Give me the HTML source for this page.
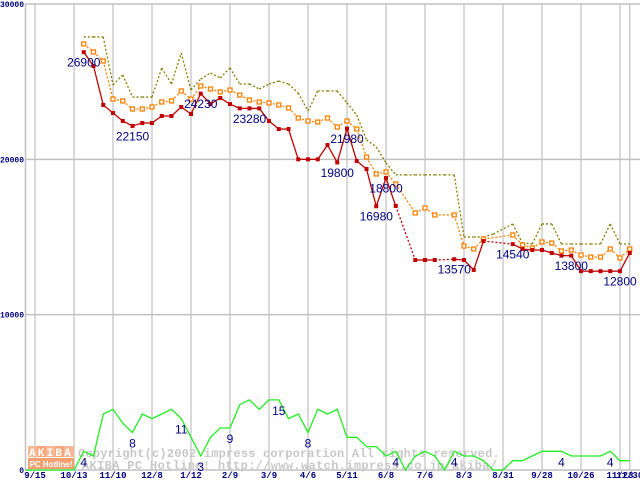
<!DOCTYPE html>
<html><head><meta charset="utf-8"><style>
html,body{margin:0;padding:0;background:#fff;}
svg{display:block;}
</style></head><body>
<svg id="chart" width="640" height="480" xmlns="http://www.w3.org/2000/svg" font-family="Liberation Sans, sans-serif">
<g id="grid"></g>
<g id="watermark">
  <g>
    <rect x="28" y="446" width="9" height="11" fill="#f7b893"/><rect x="37" y="446" width="9" height="11" fill="#f5a67a"/>
    <rect x="46" y="446" width="9" height="11" fill="#f7b893"/><rect x="55" y="446" width="9" height="11" fill="#f5a67a"/>
    <rect x="64" y="446" width="10" height="11" fill="#f7b893"/>
    <text x="51" y="456" text-anchor="middle" font-size="11" font-weight="bold" fill="#fff" letter-spacing="2.2" font-family="Liberation Mono, monospace">AKIBA</text>
    <rect x="28" y="458" width="46" height="11" fill="#f3a070"/>
    <text x="51" y="467" text-anchor="middle" font-size="8" font-weight="bold" fill="#fff" font-family="Liberation Sans, sans-serif">PC Hotline!</text>
  </g>
  <text x="78" y="457" font-size="12" font-weight="bold" fill="#c8c8c8" letter-spacing="0.2" font-family="Liberation Mono, monospace">Copyright(c)2002 impress corporation All rights reserved.</text>
  <text x="82" y="469" font-size="12" font-weight="bold" fill="#c8c8c8" letter-spacing="0.35" font-family="Liberation Mono, monospace">AKIBA PC Hotline! http://www.watch.impress.co.jp/akiba/</text>
</g>
<g id="series"></g>
<g id="labels"></g>
</svg>
<script>
const xTickLabels = ["9/15","10/13","11/10","12/8","1/12","2/9","3/9","4/6","5/11","6/8","7/6","8/3","8/31","9/28","10/26","11/23","11/30"];
const xTickWeeks = [-5,-1,3,7,11,15,19,23,27,31,35,39,43,47,51,55,56];
const yTickValues = [0,10000,20000,30000];
const minPrice = [26900,26010,23500,22980,22470,22150,22340,22340,22790,22790,23370,22920,24230,23560,23950,23560,23280,23280,23280,22470,21950,21950,20000,20000,20000,20920,19800,21980,19890,19380,16980,18800,17000,null,13520,13520,13520,null,13570,13520,12880,14740,null,null,14540,14230,14160,14160,13970,13800,13800,12800,12800,12800,12800,12800,13970];
const avgPrice = [27430,26910,26330,23880,23760,23240,23240,23370,23690,23760,24400,23880,24720,24530,24340,24460,24140,23820,23690,23630,23500,23310,22660,22470,22400,22660,22080,22470,21950,20150,19060,19190,18410,null,16550,16870,16420,null,16420,14420,14230,14870,null,null,15130,14490,14290,14680,14610,14100,14160,13840,13710,13710,14230,13650,14230];
const maxPrice = [27880,27880,27880,24790,25430,24010,24010,24010,25880,24850,26850,24460,25170,25560,25240,25880,24850,24850,24530,24850,25040,24850,24270,23110,24400,24400,24400,23640,22850,21250,20800,19770,19000,19000,19000,19000,19000,19000,19000,15000,15000,15000,15190,null,15840,14610,14550,15840,15840,14550,14550,14550,14550,14550,15840,14550,14550];
const shopCount = [0,0,0,0,0,0,4,3,12,13,10,8,12,11,12,13,11,7,3,7,9,9,14,15,13,15,15,11,12,8,13,12,13,7,7,5,5,3,4,0,3,4,3,0,4,3,3,2,0,0,2,2,3,4,4,4,3,3,3,3,4,2,2];
const shopCountStartWeek = -6;
const priceLabelWeeks = [0,5,12,17,26,27,31,30,38,44,50,55];
const priceLabelTexts = ["26900","22150","24230","23280","19800","21980","18800","16980","13570","14540","13800","12800"];
const countLabelWeeks = [0,5,10,12,15,20,23,32,38,49,54];
const countLabelTexts = ["4","8","11","3","9","15","8","4","4","4","4"];

const NS="http://www.w3.org/2000/svg";
const xW = k => 83.75 + 9.75*k;
const yP = v => 470 - v*466/30000;
const yC = c => 470 - c*4.67;
function mk(tag, attrs, parent){const e=document.createElementNS(NS,tag);for(const k in attrs)e.setAttribute(k,attrs[k]);parent.appendChild(e);return e;}
const grid=document.getElementById('grid'), ser=document.getElementById('series'), lab=document.getElementById('labels');

yTickValues.forEach(v=>{
  const l=mk('line',{x1:25,x2:640,y1:yP(v),y2:yP(v),stroke:'#c0c0c0','stroke-width':1.5},grid);
  
  
  const t=mk('text',{x:24,y:yP(v)+3,'text-anchor':'end','font-size':8,'font-weight':'bold',fill:'#000080','font-family':'Liberation Mono, monospace'},grid);
  t.textContent=String(v);
  
  
});
const ax=mk('line',{x1:25.5,x2:25.5,y1:4,y2:470,stroke:'#c0c0c0','stroke-width':1.5},grid);


xTickWeeks.forEach((k,i)=>{
  const x=xW(k);
  const l=mk('line',{x1:x,x2:x,y1:4,y2:470,stroke:'#c0c0c0','stroke-width':1.2},grid);
  
  
  const t=mk('text',{x:x,y:478,'text-anchor':'middle','font-size':9,'font-weight':'bold',fill:'#000080','font-family':'Liberation Mono, monospace'},grid);
  t.textContent=xTickLabels[i];
  
  
});

function drawLine(arr, yf, color, dash, name){
  let prev=null;
  arr.forEach((v,k)=>{
    if(v==null) return;
    if(prev!=null){
      const gap = k-prev > 1;
      const l=mk('line',{x1:xW(prev),y1:yf(arr[prev]),x2:xW(k),y2:yf(v),stroke:color,'stroke-width':1.3},ser);
      if(dash||gap) l.setAttribute('stroke-dasharray','2,2');
      
      
    }
    prev=k;
  });
}
drawLine(maxPrice,yP,'#808000',true,'max-price-line');
drawLine(avgPrice,yP,'#ff8000',true,'avg-price-line');
drawLine(minPrice,yP,'#c00000',false,'min-price-line');
avgPrice.forEach((v,k)=>{ if(v==null)return;
  const r=mk('rect',{x:xW(k)-2,y:yP(v)-2,width:4,height:4,fill:'#fff',stroke:'#ff8000','stroke-width':1.3},ser);
  
  
});
minPrice.forEach((v,k)=>{ if(v==null)return;
  const r=mk('rect',{x:xW(k)-2,y:yP(v)-2,width:4,height:4,fill:'#c00000'},ser);
  
  
});
const cpts=shopCount.map((c,i)=>xW(i+shopCountStartWeek).toFixed(1)+','+yC(c).toFixed(1)).join(' ');
const pl=mk('polyline',{points:cpts,fill:'none',stroke:'#22ee22','stroke-width':1.3},ser);



priceLabelWeeks.forEach((k,i)=>{
  const t=mk('text',{x:xW(k),y:yP(minPrice[k])+14.5,'text-anchor':'middle','font-size':12,fill:'#000080'},lab);
  t.textContent=priceLabelTexts[i];
  
  
});
countLabelWeeks.forEach((k,i)=>{
  const t=mk('text',{x:xW(k),y:yC(shopCount[k-shopCountStartWeek])+15,'text-anchor':'middle','font-size':12,fill:'#000080'},lab);
  t.textContent=countLabelTexts[i];
  
  
});
</script>
</body></html>
